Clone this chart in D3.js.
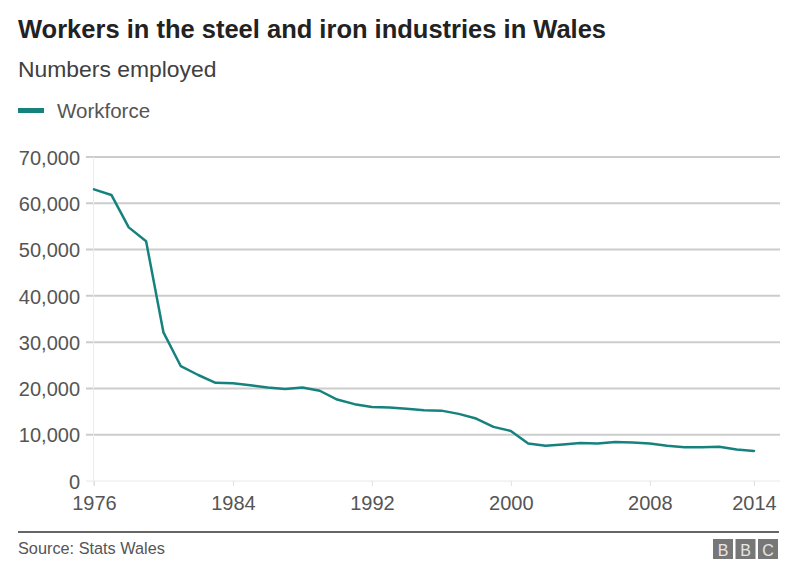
<!DOCTYPE html>
<html>
<head>
<meta charset="utf-8">
<script src="https://cdn.jsdelivr.net/npm/d3@7"></script>
<style>
  body { margin: 0; background: #fff; }
  svg { display: block; font-family: "Liberation Sans", Arial, Helvetica, sans-serif; }
</style>
</head>
<body>
<svg id="chart" width="800" height="575"></svg>
<script>
const years = [1976,1977,1978,1979,1980,1981,1982,1983,1984,1985,1986,1987,1988,1989,1990,1991,1992,1993,1994,1995,1996,1997,1998,1999,2000,2001,2002,2003,2004,2005,2006,2007,2008,2009,2010,2011,2012,2013,2014];
const workforce = [63000,61800,54800,51800,32100,24800,22900,21200,21100,20700,20200,19900,20200,19500,17600,16600,16000,15900,15600,15300,15200,14500,13500,11700,10800,8100,7600,7900,8200,8100,8400,8300,8100,7600,7300,7300,7400,6800,6500];
const yTicks = [0,10000,20000,30000,40000,50000,60000,70000];
const xTicks = [1976,1984,1992,2000,2008,2014];
const seriesName = "Workforce";
const title = "Workers in the steel and iron industries in Wales";
const subtitle = "Numbers employed";
const source = "Source: Stats Wales";

const svg = d3.select("#chart");
const teal = "#16827e";

const x = d3.scaleLinear().domain([1976, 2014]).range([94, 754]);
const y = d3.scaleLinear().domain([0, 70000]).range([481, 157]);

// Title & subtitle
svg.append("text").attr("x", 18).attr("y", 38)
  .attr("font-size", 25.5).attr("font-weight", "bold").attr("fill", "#222")
  .text(title);
svg.append("text").attr("x", 18).attr("y", 77)
  .attr("font-size", 22.9).attr("fill", "#404040")
  .text(subtitle);

// Legend
svg.append("rect").attr("x", 18).attr("y", 108).attr("width", 26).attr("height", 5).attr("fill", teal);
svg.append("text").attr("x", 57).attr("y", 118)
  .attr("font-size", 20.5).attr("fill", "#555").text(seriesName);

// gridlines
const grid = svg.append("g");
grid.selectAll("line").data(yTicks).join("line")
  .attr("x1", 86).attr("x2", 780)
  .attr("y1", d => y(d)).attr("y2", d => y(d))
  .attr("stroke", d => d === 0 ? "#e8e8e8" : "#cccccc")
  .attr("stroke-width", d => d === 0 ? 1 : 2);

// vertical axis line
svg.append("line").attr("x1", 93.5).attr("x2", 93.5).attr("y1", 157).attr("y2", 486)
  .attr("stroke", "#ececec").attr("stroke-width", 1);

// Y labels
const yAxis = d3.axisLeft(y).tickValues(yTicks).tickSize(0).tickPadding(0)
  .tickFormat(d3.format(","));
const gy = svg.append("g").attr("transform", "translate(80,0)").call(yAxis);
gy.select(".domain").remove();
gy.selectAll("text").attr("font-size", 20).attr("fill", "#555")
  .attr("font-family", "Liberation Sans, Arial, sans-serif").attr("dy", "0.36em");

// X axis
const xAxis = d3.axisBottom(x).tickValues(xTicks).tickSize(5).tickPadding(4).tickFormat(d3.format("d"));
const gx = svg.append("g").attr("transform", "translate(0,481)").call(xAxis);
gx.select(".domain").remove();
gx.selectAll("line").attr("stroke", "#e0e0e0");
gx.selectAll("text").attr("font-size", 20).attr("fill", "#555")
  .attr("font-family", "Liberation Sans, Arial, sans-serif")
  .attr("y", 29).attr("dy", 0);

// Line
const data = years.map((yr, i) => ({yr, v: workforce[i]}));
const line = d3.line().x(d => x(d.yr)).y(d => y(d.v)).curve(d3.curveLinear);
svg.append("path").datum(data).attr("d", line)
  .attr("fill", "none").attr("stroke", teal).attr("stroke-width", 2.5)
  .attr("stroke-linejoin", "round").attr("stroke-linecap", "round");

// Footer
svg.append("line").attr("x1", 18).attr("x2", 779).attr("y1", 532).attr("y2", 532)
  .attr("stroke", "#333").attr("stroke-width", 1.5);
svg.append("text").attr("x", 18).attr("y", 554)
  .attr("font-size", 16.3).attr("fill", "#555").text(source);

const bbc = ["B","B","C"];
const logo = svg.append("g");
bbc.forEach((l, i) => {
  const bx = 713 + i * 22.5;
  logo.append("rect").attr("x", bx).attr("y", 539).attr("width", 20).attr("height", 20).attr("fill", "#777");
  logo.append("text").attr("x", bx + 10).attr("y", 555.5).attr("text-anchor", "middle")
    .attr("font-size", 16).attr("fill", "#e6e6e6").text(l);
});
</script>
</body>
</html>
